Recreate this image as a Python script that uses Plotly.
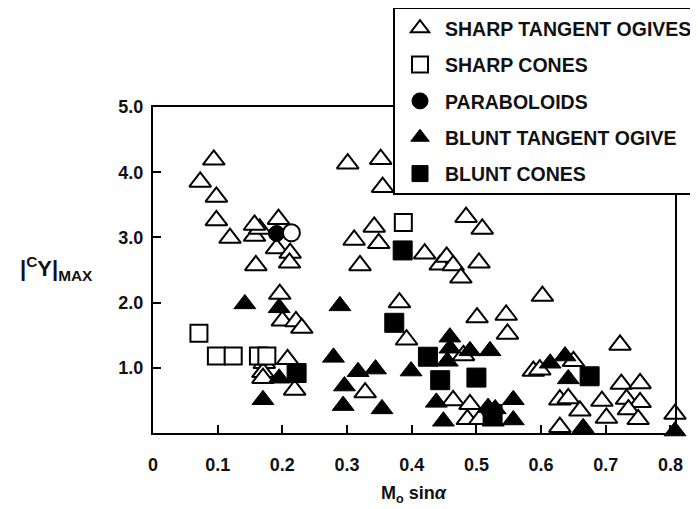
import plotly.graph_objects as go

# ---- data ----
# SHARP TANGENT OGIVES (open triangles)
sto_x = [0.094, 0.073, 0.098, 0.098, 0.119, 0.157, 0.165, 0.157, 0.191, 0.194,
         0.212, 0.211, 0.159,
         0.301, 0.352, 0.355, 0.342, 0.311, 0.349, 0.320,
         0.420, 0.444, 0.454, 0.464, 0.476, 0.504, 0.484, 0.509,
         0.381, 0.392, 0.602, 0.501, 0.546, 0.548, 0.722,
         0.196, 0.200, 0.221, 0.230,
         0.208, 0.172, 0.170, 0.170, 0.219,
         0.328, 0.480,
         0.464, 0.490, 0.486, 0.505,
         0.629, 0.588, 0.598, 0.650,
         0.629, 0.642, 0.660, 0.694, 0.701,
         0.724, 0.753, 0.732, 0.753, 0.735, 0.750,
         0.807]
sto_y = [4.19, 3.85, 3.62, 3.26, 2.99, 3.02, 3.13, 3.19, 2.83, 3.28,
         2.76, 2.61, 2.57,
         4.13, 4.20, 3.77, 3.16, 2.96, 2.91, 2.57,
         2.75, 2.58, 2.70, 2.57, 2.38, 2.61, 3.31, 3.13,
         2.00, 1.43, 2.10, 1.77, 1.81, 1.52, 1.35,
         2.13, 1.72, 1.71, 1.61,
         1.13, 1.07, 0.93, 0.84, 0.66,
         0.62, 1.19,
         0.50, 0.44, 0.21, 0.21,
         0.09, 0.95, 0.97, 1.10,
         0.51, 0.53, 0.34, 0.49, 0.23,
         0.75, 0.76, 0.52, 0.47, 0.36, 0.21,
         0.29]

# SHARP CONES (open squares)
sc_x = [0.071, 0.098, 0.124, 0.163, 0.176, 0.387]
sc_y = [1.53, 1.18, 1.18, 1.18, 1.18, 3.23]

# PARABOLOIDS (filled circle) and one open circle
par_x = [0.191]
par_y = [3.06]
par_open_x = [0.214]
par_open_y = [3.07]

# BLUNT TANGENT OGIVE (filled triangles)
bto_x = [0.142, 0.195, 0.170, 0.195,
         0.289, 0.279, 0.317, 0.344, 0.296, 0.294, 0.354, 0.399,
         0.459, 0.459, 0.455, 0.490, 0.521, 0.438, 0.449,
         0.518, 0.529, 0.557, 0.557, 0.526,
         0.637, 0.614, 0.642, 0.665, 0.807]
bto_y = [1.98, 1.92, 0.51, 0.84,
         1.95, 1.16, 0.94, 0.98, 0.72, 0.42, 0.37, 0.95,
         1.47, 1.30, 1.10, 1.26, 1.26, 0.47, 0.18,
         0.39, 0.37, 0.51, 0.20, 0.18,
         1.18, 1.07, 0.83, 0.08, 0.03]

# BLUNT CONES (filled squares)
bc_x = [0.222, 0.386, 0.373, 0.425, 0.444, 0.500, 0.525, 0.675]
bc_y = [0.92, 2.80, 1.69, 1.17, 0.81, 0.85, 0.29, 0.87]

x_ticks = [0, 0.1, 0.2, 0.3, 0.4, 0.5, 0.6, 0.7, 0.8]
x_tick_text = ["0", "0.1", "0.2", "0.3", "0.4", "0.5", "0.6", "0.7", "0.8"]
y_ticks = [1, 2, 3, 4, 5]
y_tick_text = ["1.0", "2.0", "3.0", "4.0", "5.0"]

FONT = "Liberation Sans, Arial, sans-serif"

fig = go.Figure()
fig.add_trace(go.Scatter(
    x=sto_x, y=sto_y, mode="markers", name="SHARP TANGENT OGIVES",
    marker=dict(symbol="triangle-up", size=19, color="white",
                line=dict(color="black", width=2)),
    legendgroup="g1", legendrank=1, cliponaxis=False))
fig.add_trace(go.Scatter(
    x=sc_x, y=sc_y, mode="markers", name="SHARP CONES",
    marker=dict(symbol="square", size=17, color="white",
                line=dict(color="black", width=2)),
    legendgroup="g2", legendrank=2, cliponaxis=False))
fig.add_trace(go.Scatter(
    x=bto_x, y=bto_y, mode="markers", name="BLUNT TANGENT OGIVE",
    marker=dict(symbol="triangle-up", size=19, color="black",
                line=dict(color="black", width=1)),
    legendgroup="g4", legendrank=4, cliponaxis=False))
fig.add_trace(go.Scatter(
    x=bc_x, y=bc_y, mode="markers", name="BLUNT CONES",
    marker=dict(symbol="square", size=19, color="black",
                line=dict(color="black", width=1)),
    legendgroup="g5", legendrank=5, cliponaxis=False))
fig.add_trace(go.Scatter(
    x=par_x, y=par_y, mode="markers", name="PARABOLOIDS",
    marker=dict(symbol="circle", size=16, color="black",
                line=dict(color="black", width=1)),
    legendgroup="g3", legendrank=3, cliponaxis=False))
fig.add_trace(go.Scatter(
    x=par_open_x, y=par_open_y, mode="markers", name="PARABOLOIDS (open)",
    marker=dict(symbol="circle", size=17, color="white",
                line=dict(color="black", width=2)),
    showlegend=False, cliponaxis=False))

axis_common = dict(showline=True, linecolor="black", linewidth=2, mirror=True,
                   showgrid=False, zeroline=False, ticks="inside", ticklen=8,
                   tickwidth=2, tickcolor="black",
                   tickfont=dict(family=FONT, size=18, color="#111", weight="bold"))

fig.update_xaxes(range=[0, 0.807], tickvals=x_ticks, ticktext=x_tick_text,
                 ticklabelstandoff=14, **axis_common)
fig.update_yaxes(range=[0, 5], tickvals=y_ticks, ticktext=y_tick_text,
                 ticklabelstandoff=4, **axis_common)

fig.update_layout(
    width=690, height=501,
    margin=dict(l=145, r=23, t=99, b=76, autoexpand=False),
    paper_bgcolor="white", plot_bgcolor="white",
    font=dict(family=FONT, color="#111"),
    legend=dict(x=0.4598, y=1.3067, xanchor="left", yanchor="top",
                bgcolor="white", bordercolor="black", borderwidth=2,
                font=dict(family=FONT, size=19.5, color="#111", weight="bold"),
                tracegroupgap=8, itemwidth=40, itemsizing="trace"),
    annotations=[
        dict(text="|<sup>C</sup>Y|<sub>MAX</sub>", xref="paper", yref="paper",
             x=-0.184, y=0.506, xanchor="center", yanchor="middle", showarrow=False,
             font=dict(family=FONT, size=22, color="#111", weight="bold")),
        dict(text="M<sub>o</sub> sin<i>α</i>", xref="paper", yref="paper",
             x=0.5, y=-0.188, xanchor="center", yanchor="middle", showarrow=False,
             font=dict(family=FONT, size=18, color="#111", weight="bold")),
    ],
    shapes=[
        dict(type="line", xref="paper", yref="paper", x0=0.4828, x1=1.05,
             y0=0.7546, y1=0.7546, line=dict(color="black", width=5)),
    ],
)

fig.write_html("out.html")
